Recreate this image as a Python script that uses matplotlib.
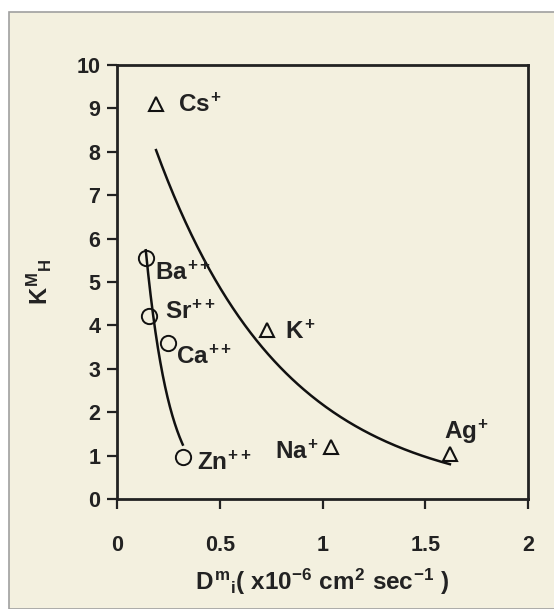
import numpy as np
import matplotlib
matplotlib.use("Agg")
import matplotlib.pyplot as plt
from matplotlib.patches import Rectangle

plt.rcParams['font.family'] = ['Liberation Sans', 'DejaVu Sans']
plt.rcParams['font.weight'] = 'bold'
plt.rcParams['mathtext.fontset'] = 'custom'
plt.rcParams['mathtext.rm'] = 'Liberation Sans:bold'
plt.rcParams['mathtext.it'] = 'Liberation Sans:bold'
plt.rcParams['mathtext.bf'] = 'Liberation Sans:bold'

# monovalent ions (triangles)
mono_ions = ['Cs', 'K', 'Na', 'Ag']
mono_d = [0.19, 0.73, 1.04, 1.62]
mono_k = [9.1, 3.9, 1.2, 1.04]

# divalent ions (circles)
di_ions = ['Ba', 'Sr', 'Ca', 'Zn']
di_d = [0.14, 0.157, 0.25, 0.32]
di_k = [5.55, 4.22, 3.59, 0.96]

BG = '#f3f0df'

fig = plt.figure(figsize=(5.54, 6.09), dpi=100)
fig.patch.set_facecolor('white')
fig.patches.append(Rectangle((9 / 554, 0), 1, 1 - 12 / 609, transform=fig.transFigure,
                             facecolor=BG, edgecolor='#a0a0a0', lw=1.2, zorder=-10))

ax = fig.add_axes([117 / 554, 1 - 499 / 609, 411 / 554, 434 / 609])
ax.set_facecolor(BG)
ax.set_zorder(5)


def exp_trend(x, y):
    # exponential trendline y = a*exp(b*x), least squares on log(y)
    b, lna = np.polyfit(x, np.log(y), 1)
    xs = np.linspace(min(x), max(x), 200)
    return xs, np.exp(lna) * np.exp(b * xs)


xs, ys = exp_trend(np.array(mono_d), np.array(mono_k))
ax.plot(xs, ys, color='#111111', lw=1.8)
xs, ys = exp_trend(np.array(di_d), np.array(di_k))
ax.plot(xs, ys, color='#111111', lw=1.8)

ax.plot(mono_d, mono_k, '^', ms=10.5, mfc='none', mec='#111111', mew=1.5)
ax.plot(di_d, di_k, 'o', ms=11, mfc='none', mec='#111111', mew=1.4)

fs = 17.5
labels = [
    (r'$Cs^{+}$', 0.297, 9.08),
    (r'$Ba^{++}$', 0.185, 5.2),
    (r'$Sr^{++}$', 0.234, 4.31),
    (r'$Ca^{++}$', 0.287, 3.27),
    (r'$Zn^{++}$', 0.388, 0.83),
    (r'$K^{+}$', 0.818, 3.85),
    (r'$Na^{+}$', 0.77, 1.08),
    (r'$Ag^{+}$', 1.59, 1.54),
]
for txt, x, y in labels:
    ax.text(x, y, txt, fontsize=fs, ha='left', va='center', color='#222222')

ax.set_xlim(0, 2)
ax.set_ylim(0, 10)
ax.set_xticks([0, 0.5, 1, 1.5, 2])
ax.set_xticklabels(['0', '0.5', '1', '1.5', '2'])
ax.set_yticks(range(11))
ax.tick_params(direction='out', length=7, width=1.6, labelsize=15.5, colors='#222222')
ax.tick_params(axis='x', pad=19)
ax.tick_params(axis='y', pad=5)
for s in ax.spines.values():
    s.set_linewidth(2)
    s.set_color('#222222')

ax.set_xlabel(r'$D^{m}{}_{i}(\ x10^{-6}\ cm^{2}\ sec^{-1}\ )$', fontsize=17.5, color='#222222', labelpad=8)
ax.set_ylabel(r'$K^{M}{}_{H}$', fontsize=17, color='#222222', labelpad=16)

fig.savefig('out.png', dpi=100, facecolor=fig.get_facecolor())
